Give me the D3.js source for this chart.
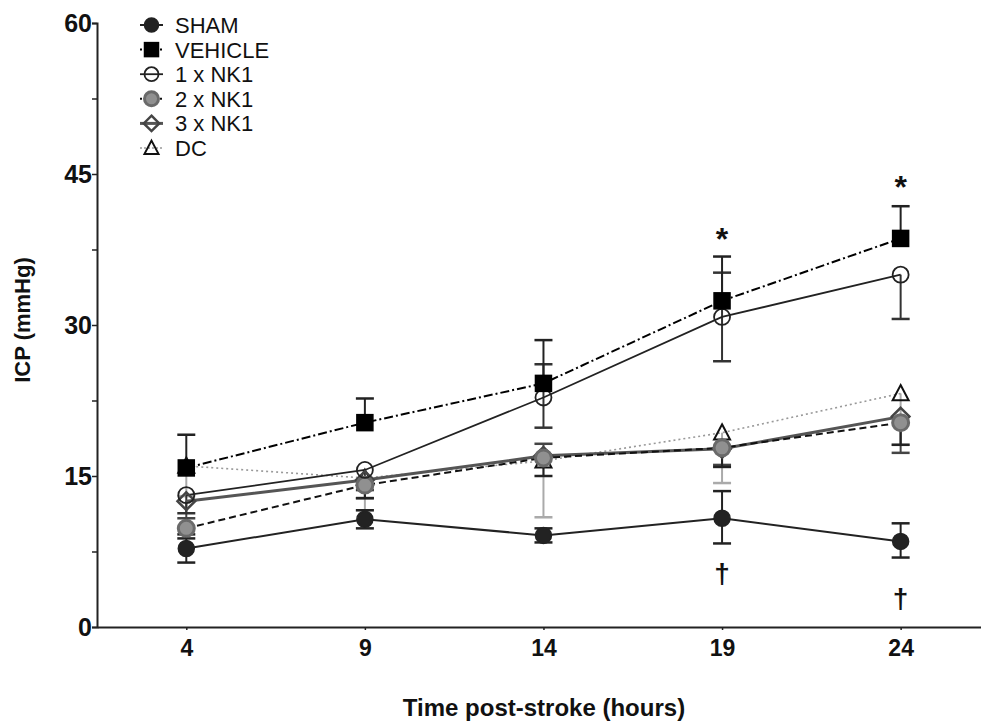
<!DOCTYPE html>
<html>
<head>
<meta charset="utf-8">
<script src="https://cdn.jsdelivr.net/npm/d3@7"></script>
<style>
  html, body { margin: 0; padding: 0; background: #fff; }
  svg { display: block; font-family: "Liberation Sans", Arial, sans-serif; }
</style>
</head>
<body>
<svg id="chart" width="981" height="722"></svg>
<script>
// ---- data ----
const hours = [4, 9, 14, 19, 24];
const yTicks = [0, 15, 30, 45, 60];
const seriesNames = ["SHAM", "VEHICLE", "1 x NK1", "2 x NK1", "3 x NK1", "DC"];
// values and SEM (upper / lower whisker as drawn; 0 = not drawn)
const shamVals = [7.8, 10.7, 9.1, 10.8, 8.5];
const shamErrUp = [1.4, 0.9, 0.7, 2.7, 1.8];
const shamErrDown = [1.4, 0.9, 0.7, 2.5, 1.6];
const vehicleVals = [15.8, 20.3, 24.2, 32.4, 38.6];
const vehicleErrUp = [3.3, 2.4, 4.3, 4.4, 3.2];
const vehicleErrDown = [0, 0, 0, 0, 0];
const nk1Vals = [13.1, 15.6, 22.8, 30.8, 35.0];
const nk1ErrUp = [0, 0, 3.3, 4.4, 0];
const nk1ErrDown = [1.8, 2.0, 3.0, 4.4, 4.4];
const nk2Vals = [9.8, 14.1, 16.8, 17.8, 20.3];
const nk2ErrUp = [0, 0, 0, 0, 0];
const nk2ErrDown = [1.0, 1.3, 1.8, 1.9, 2.2];
const nk3Vals = [12.5, 14.6, 17.0, 17.7, 20.9];
const nk3ErrUp = [0, 0, 1.2, 0, 0];
const nk3ErrDown = [1.7, 1.8, 0, 1.6, 3.6];
const dcVals = [16.0, 14.8, 16.5, 19.3, 23.2];
const dcErrUp = [0, 0, 0, 0, 0];
const dcErrDown = [3.0, 3.2, 5.6, 5.0, 5.1];
const asteriskHours = [19, 24];
const asteriskVals = [39.2, 44.4];
const daggerHours = [19, 24];
const daggerVals = [5.3, 2.9];

// ---- build ----
const svg = d3.select("#chart");
const x = d3.scaleLinear().domain([1.5, 26.25]).range([97, 981]);
const y = d3.scaleLinear().domain([0, 60]).range([627, 23]);

const styles = {
  "SHAM":    {vals: shamVals, up: shamErrUp, down: shamErrDown, line: "#222", lw: 2, dash: null, errColor: "#222", marker: "circle", fill: "#222", stroke: "#222", sw: 1.5},
  "VEHICLE": {vals: vehicleVals, up: vehicleErrUp, down: vehicleErrDown, line: "#000", lw: 2, dash: "9,3,2,3", errColor: "#222", marker: "square", fill: "#000", stroke: "#000", sw: 1.5},
  "1 x NK1": {vals: nk1Vals, up: nk1ErrUp, down: nk1ErrDown, line: "#222", lw: 1.8, dash: null, errColor: "#333", marker: "circle", fill: "none", stroke: "#222", sw: 1.8},
  "2 x NK1": {vals: nk2Vals, up: nk2ErrUp, down: nk2ErrDown, line: "#111", lw: 2, dash: "7,4", errColor: "#222", marker: "circle", fill: "#909090", stroke: "#6a6a6a", sw: 3},
  "3 x NK1": {vals: nk3Vals, up: nk3ErrUp, down: nk3ErrDown, line: "#555", lw: 3, dash: null, errColor: "#444", marker: "diamond", fill: "none", stroke: "#444", sw: 2.5},
  "DC":      {vals: dcVals, up: dcErrUp, down: dcErrDown, line: "#999", lw: 1.6, dash: "2,3", errColor: "#aaa", marker: "triangle", fill: "none", stroke: "#111", sw: 2}
};

// axes
const yAxis = d3.axisLeft(y).tickValues(d3.range(0, 60.1, 7.5)).tickSize(5)
  .tickFormat(d => yTicks.includes(d) ? d3.format("d")(d) : "");
const gy = svg.append("g").attr("transform", "translate(97,0)").call(yAxis);
gy.select(".domain").attr("stroke", "#222").attr("stroke-width", 2);
gy.selectAll(".tick line").attr("stroke", "#222").attr("stroke-width", 1.5);
gy.selectAll(".tick text").attr("font-size", 25).attr("font-weight", "bold").attr("fill", "#111").attr("x", -5);

const xAxis = d3.axisBottom(x).tickValues(hours).tickSize(3).tickSizeOuter(0).tickFormat(d3.format("d"));
const gx = svg.append("g").attr("transform", "translate(0,627)").call(xAxis);
gx.select(".domain").attr("stroke", "#222").attr("stroke-width", 2);
gx.selectAll(".tick line").attr("stroke", "#222").attr("stroke-width", 1.5);
gx.selectAll(".tick text").attr("font-size", 23).attr("font-weight", "bold").attr("fill", "#111").attr("dy", "1.0em");

// axis titles
svg.append("text").attr("x", 544).attr("y", 716).attr("text-anchor", "middle")
  .attr("font-size", 24).attr("font-weight", "bold").attr("fill", "#111").text("Time post-stroke (hours)");
svg.append("text").attr("transform", "translate(30,320) rotate(-90)").attr("text-anchor", "middle")
  .attr("font-size", 22).attr("font-weight", "bold").attr("fill", "#111").text("ICP (mmHg)");

// error bars
const capW = 9;
const drawOrder = ["DC", "3 x NK1", "2 x NK1", "1 x NK1", "VEHICLE", "SHAM"];
drawOrder.forEach(name => {
  const s = styles[name];
  const g = svg.append("g");
  hours.forEach((h, i) => {
    const cx = x(h);
    [[s.up[i], 1], [s.down[i], -1]].forEach(([e, sign]) => {
      if (!e) return;
      const y0 = y(s.vals[i]), y1 = y(s.vals[i] + sign * e);
      g.append("line").attr("x1", cx).attr("x2", cx).attr("y1", y0).attr("y2", y1)
        .attr("stroke", s.errColor).attr("stroke-width", 2);
      g.append("line").attr("x1", cx - capW).attr("x2", cx + capW)
        .attr("y1", y1).attr("y2", y1).attr("stroke", s.errColor).attr("stroke-width", 2.5);
    });
  });
});

// lines
const lineGen = d3.line().x(d => x(d[0])).y(d => y(d[1]));
drawOrder.forEach(name => {
  const s = styles[name];
  svg.append("path").datum(hours.map((h, i) => [h, s.vals[i]]))
    .attr("d", lineGen).attr("fill", "none").attr("stroke", s.line)
    .attr("stroke-width", s.lw).attr("stroke-dasharray", s.dash);
});

// markers
function marker(g, s, cx, cy, r) {
  let m;
  if (s.marker === "circle") {
    m = g.append("circle").attr("cx", cx).attr("cy", cy).attr("r", r);
  } else if (s.marker === "square") {
    m = g.append("rect").attr("x", cx - r).attr("y", cy - r).attr("width", 2 * r).attr("height", 2 * r);
  } else if (s.marker === "diamond") {
    const d = r * 1.1;
    m = g.append("path").attr("d", `M${cx},${cy - d}L${cx + d},${cy}L${cx},${cy + d}L${cx - d},${cy}Z`);
  } else {
    const h = r * 1.05;
    m = g.append("path").attr("d", `M${cx},${cy - h}L${cx + r},${cy + h * 0.8}L${cx - r},${cy + h * 0.8}Z`);
  }
  m.attr("fill", s.fill).attr("stroke", s.stroke).attr("stroke-width", s.sw);
}
drawOrder.forEach(name => {
  const s = styles[name];
  const g = svg.append("g");
  hours.forEach((h, i) => marker(g, s, x(h), y(s.vals[i]), 8));
});

// significance marks
asteriskHours.forEach((h, k) => {
  svg.append("text").attr("x", x(h)).attr("y", y(asteriskVals[k])).attr("dy", "0.55em")
    .attr("text-anchor", "middle").attr("font-size", 32).attr("font-weight", "bold").attr("fill", "#111").text("*");
});
daggerHours.forEach((h, k) => {
  svg.append("text").attr("x", x(h)).attr("y", y(daggerVals[k])).attr("dy", "0.35em")
    .attr("text-anchor", "middle").attr("font-size", 28).attr("font-weight", "bold").attr("fill", "#111").text("†");
});

// legend
const leg = svg.append("g");
seriesNames.forEach((name, k) => {
  const s = styles[name];
  const cy = 25 + k * 24.6;
  leg.append("line").attr("x1", 140).attr("x2", 163).attr("y1", cy).attr("y2", cy)
    .attr("stroke", s.line).attr("stroke-width", s.lw).attr("stroke-dasharray", s.dash ? "2,2" : null);
  marker(leg, s, 151.5, cy, 7);
  leg.append("text").attr("x", 175).attr("y", cy).attr("dy", "0.36em")
    .attr("font-size", 22).attr("fill", "#111").text(name);
});
</script>
</body>
</html>
